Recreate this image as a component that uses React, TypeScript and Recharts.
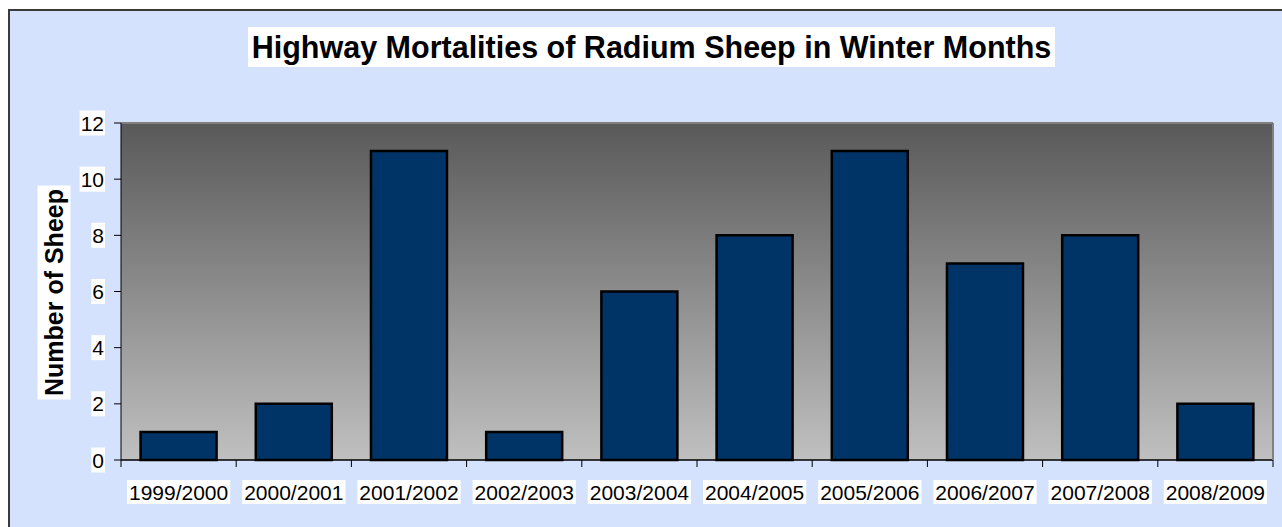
import React from 'react';
import { BarChart, Bar, XAxis, YAxis, CartesianGrid, ReferenceLine } from 'recharts';

const seasons = ['1999/2000', '2000/2001', '2001/2002', '2002/2003', '2003/2004', '2004/2005', '2005/2006', '2006/2007', '2007/2008', '2008/2009'];
const sheepCounts = [1, 2, 11, 1, 6, 8, 11, 7, 8, 2];
const yTicks = [0, 2, 4, 6, 8, 10, 12];
const boundaryTicks = [0, 1, 2, 3, 4, 5, 6, 7, 8, 9, 10];

const data = seasons.map((season, i) => ({ season, sheep: sheepCounts[i], idx: i }));

const FONT = '"Liberation Sans", Arial, sans-serif';
const FS = 21;

const charW = (c: string) => {
  if (c >= '0' && c <= '9') return 0.556;
  if (c === '/') return 0.278;
  return 0.556;
};
const textWidth = (s: string, size: number) => s.split('').reduce((a, c) => a + charW(c), 0) * size;

const XLabel = (props: any) => {
  const { x, y, payload } = props;
  const label = String(payload.value);
  const w = textWidth(label, FS) + 4;
  const cy = y + 31;
  return (
    <g>
      <rect x={x - w / 2} y={cy - 12} width={w} height={24} fill="#ffffff" />
      <text x={x} y={cy + 7.5} textAnchor="middle" fontFamily={FONT} fontSize={FS} fill="#000">
        {label}
      </text>
    </g>
  );
};

const YLabel = (props: any) => {
  const { x, y, payload } = props;
  const label = String(payload.value);
  const w = textWidth(label, FS) + 2;
  return (
    <g>
      <rect x={x - w + 1} y={y - 12.5} width={w} height={25} fill="#ffffff" />
      <text x={x} y={y + 7.5} textAnchor="end" fontFamily={FONT} fontSize={FS} fill="#000">
        {label}
      </text>
    </g>
  );
};

const EmptyTick = () => <g />;

export default function App() {
  return (
    <div style={{ position: 'absolute', left: 0, top: 0, width: 1282, height: 527, overflow: 'hidden', background: '#ffffff' }}>
      <div
        style={{
          position: 'absolute',
          left: 8,
          top: 9,
          width: 1300,
          height: 540,
          background: '#D5E2FD',
          border: '2px solid #3a3a3a',
        }}
      />
      <div style={{ position: 'absolute', left: 0, top: 0 }}>
        <BarChart
          width={1282}
          height={527}
          data={data}
          margin={{ top: 123, right: 8, bottom: 26, left: 61 }}
          barCategoryGap="17%"
        >
          <defs>
            <linearGradient id="plotBg" x1="0" y1="0" x2="0" y2="1">
              <stop offset="0%" stopColor="#595959" />
              <stop offset="100%" stopColor="#C0C0C0" />
            </linearGradient>
          </defs>
          <CartesianGrid
            vertical={false}
            stroke="#000000"
            strokeWidth={1}
            fill="url(#plotBg)"
            fillOpacity={1}
          />
          <XAxis
            xAxisId="bounds"
            type="number"
            dataKey="idx"
            domain={[0, 10]}
            ticks={boundaryTicks}
            allowDataOverflow
            height={1}
            tickSize={7}
            tick={EmptyTick}
            axisLine={{ stroke: '#000', strokeWidth: 1 }}
            tickLine={{ stroke: '#000', strokeWidth: 1 }}
          />
          <XAxis
            xAxisId="cat"
            dataKey="season"
            height={40}
            tickSize={0}
            tickMargin={0}
            axisLine={false}
            tickLine={false}
            interval={0}
            tick={XLabel}
          />
          <YAxis
            yAxisId="left"
            width={60}
            domain={[0, 12]}
            ticks={yTicks}
            tickSize={7}
            tickMargin={10}
            interval={0}
            axisLine={{ stroke: '#000', strokeWidth: 1 }}
            tickLine={{ stroke: '#000', strokeWidth: 1 }}
            tick={YLabel}
          />
          <YAxis
            yAxisId="right"
            orientation="right"
            width={1}
            domain={[0, 12]}
            ticks={yTicks}
            tick={false}
            tickLine={false}
            axisLine={{ stroke: '#808080', strokeWidth: 2 }}
          />
          <ReferenceLine yAxisId="left" xAxisId="cat" y={12} stroke="#808080" strokeWidth={2} />
          <Bar
            dataKey="sheep"
            xAxisId="cat"
            yAxisId="left"
            fill="#003366"
            stroke="#000000"
            strokeWidth={2.5}
            isAnimationActive={false}
          />
        </BarChart>
      </div>
      <div
        style={{
          position: 'absolute',
          left: 248,
          top: 27,
          width: 807,
          height: 40,
          background: '#ffffff',
          fontFamily: FONT,
          fontWeight: 'bold',
          fontSize: 30.5,
          lineHeight: '40px',
          textAlign: 'center',
          whiteSpace: 'nowrap',
          color: '#000',
        }}
      >
        Highway Mortalities of Radium Sheep in Winter Months
      </div>
      <div
        style={{
          position: 'absolute',
          left: 54 - 107,
          top: 292 - 16.5,
          width: 214,
          height: 33,
          background: '#ffffff',
          fontFamily: FONT,
          fontWeight: 'bold',
          fontSize: 25,
          lineHeight: '33px',
          textAlign: 'center',
          whiteSpace: 'nowrap',
          color: '#000',
          transform: 'rotate(-90deg)',
        }}
      >
        Number of Sheep
      </div>
    </div>
  );
}
